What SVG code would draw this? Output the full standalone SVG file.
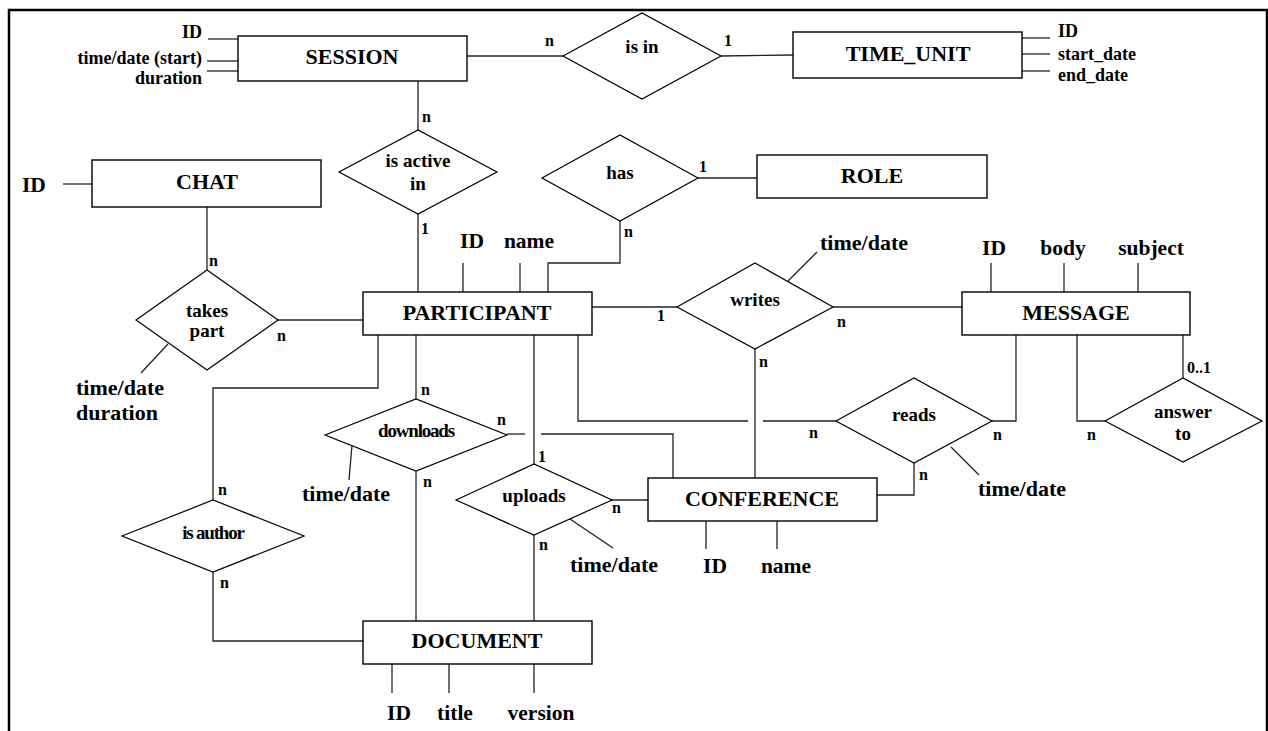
<svg xmlns="http://www.w3.org/2000/svg" width="1268" height="731" viewBox="0 0 1268 731">
<style>
text{font-family:"Liberation Serif","Times New Roman",serif;font-weight:bold;fill:#000}
.ent{fill:#fff;stroke:#000;stroke-width:1.4}
.rel{fill:#fff;stroke:#000;stroke-width:1.2}
.en{font-size:22px;text-anchor:middle}
.rt{font-size:19px;text-anchor:middle}
.cond{letter-spacing:-1.2px}
.at{font-size:21.5px}
.as{font-size:18px}
.td{font-size:22px}
.lb{font-size:16px}
.mid{text-anchor:middle}
.end{text-anchor:end}
#connectors path,#connectors line{fill:none;stroke:#222;stroke-width:1.3}
</style>
<rect width="1268" height="731" fill="#fff"/>
<path d="M9,731 V10 H1267 V731" fill="none" stroke="#000" stroke-width="2.5"/>

<g id="connectors">
  <!-- SESSION attributes -->
  <line x1="208" y1="39" x2="238" y2="39"/>
  <line x1="207" y1="61" x2="238" y2="61"/>
  <line x1="207" y1="71" x2="238" y2="71"/>
  <!-- TIME_UNIT attributes -->
  <line x1="1022" y1="38" x2="1050" y2="38"/>
  <line x1="1022" y1="54" x2="1050" y2="54"/>
  <line x1="1022" y1="71" x2="1050" y2="71"/>
  <!-- SESSION - is in - TIME_UNIT -->
  <line x1="467" y1="56" x2="563" y2="56"/>
  <line x1="721" y1="56" x2="793" y2="55"/>
  <!-- SESSION - is active in - PARTICIPANT -->
  <line x1="418" y1="81" x2="418" y2="130"/>
  <line x1="418" y1="214" x2="418" y2="292"/>
  <!-- CHAT -->
  <line x1="63" y1="184" x2="92" y2="184"/>
  <line x1="207" y1="207" x2="207" y2="270"/>
  <line x1="278" y1="320" x2="363" y2="320"/>
  <line x1="168" y1="344" x2="141" y2="373"/>
  <!-- has / ROLE -->
  <path d="M548,292 V263 H620 V221"/>
  <line x1="698" y1="178" x2="757" y2="178"/>
  <!-- PARTICIPANT attributes -->
  <line x1="463" y1="263" x2="463" y2="292"/>
  <line x1="520" y1="263" x2="520" y2="292"/>
  <!-- writes -->
  <line x1="592" y1="307" x2="677" y2="307"/>
  <line x1="833" y1="307" x2="962" y2="307"/>
  <line x1="788" y1="281" x2="817" y2="252"/>
  <line x1="755" y1="349" x2="755" y2="478"/>
  <!-- MESSAGE attributes -->
  <line x1="991" y1="263" x2="991" y2="292"/>
  <line x1="1064" y1="263" x2="1064" y2="292"/>
  <line x1="1138" y1="263" x2="1138" y2="292"/>
  <!-- MESSAGE - reads / answer to -->
  <path d="M1016,335 V421 H992"/>
  <path d="M1077,335 V421 H1105"/>
  <line x1="1183" y1="335" x2="1183" y2="378"/>
  <!-- PARTICIPANT - reads -->
  <path d="M578,335 V421 H748"/>
  <line x1="763" y1="421" x2="836" y2="421"/>
  <path d="M914,463 V495 H877"/>
  <line x1="951" y1="447" x2="979" y2="475"/>
  <!-- downloads -->
  <line x1="416" y1="335" x2="416" y2="399"/>
  <line x1="507" y1="434" x2="525" y2="434"/>
  <path d="M541,434 H673 V478"/>
  <line x1="352" y1="445" x2="349" y2="480"/>
  <line x1="416" y1="471" x2="416" y2="621"/>
  <!-- uploads -->
  <line x1="534" y1="335" x2="534" y2="464"/>
  <line x1="612" y1="500" x2="648" y2="500"/>
  <line x1="570" y1="519" x2="613" y2="548"/>
  <line x1="534" y1="535" x2="534" y2="621"/>
  <!-- is author -->
  <path d="M378,335 V388 H213 V500"/>
  <path d="M213,572 V641 H363"/>
  <!-- DOCUMENT attributes -->
  <line x1="392" y1="664" x2="392" y2="693"/>
  <line x1="449" y1="664" x2="449" y2="693"/>
  <line x1="534" y1="664" x2="534" y2="693"/>
  <!-- CONFERENCE attributes -->
  <line x1="706" y1="521" x2="706" y2="549"/>
  <line x1="777" y1="521" x2="777" y2="549"/>
</g>

<g id="cardinalities">
  <text class="lb" x="545" y="46">n</text>
  <text class="lb" x="724" y="46">1</text>
  <text class="lb" x="422" y="122">n</text>
  <text class="lb" x="421" y="234">1</text>
  <text class="lb" x="209" y="266">n</text>
  <text class="lb" x="277" y="341">n</text>
  <text class="lb" x="624" y="237">n</text>
  <text class="lb" x="699" y="172">1</text>
  <text class="lb" x="657" y="321">1</text>
  <text class="lb" x="837" y="327">n</text>
  <text class="lb" x="759" y="367">n</text>
  <text class="lb" x="993" y="440">n</text>
  <text class="lb" x="1087" y="440">n</text>
  <text class="lb" x="1187" y="373">0..1</text>
  <text class="lb" x="809" y="438">n</text>
  <text class="lb" x="919" y="480">n</text>
  <text class="lb" x="421" y="395">n</text>
  <text class="lb" x="497" y="425">n</text>
  <text class="lb" x="423" y="487">n</text>
  <text class="lb" x="538" y="462">1</text>
  <text class="lb" x="612" y="513">n</text>
  <text class="lb" x="539" y="550">n</text>
  <text class="lb" x="218" y="495">n</text>
  <text class="lb" x="220" y="588">n</text>
</g>

<g id="attributes">
  <text class="as end" x="202" y="38">ID</text>
  <text class="as end" x="202" y="64">time/date (start)</text>
  <text class="as end" x="202" y="84">duration</text>
  <text class="as" x="1058" y="37">ID</text>
  <text class="as" x="1058" y="60">start_date</text>
  <text class="as" x="1058" y="81">end_date</text>
  <text class="at" x="22" y="192">ID</text>
  <text class="td" x="76" y="395">time/date</text>
  <text class="td" x="76" y="420">duration</text>
  <text class="at mid" x="472" y="248">ID</text>
  <text class="at mid" x="529" y="248">name</text>
  <text class="td" x="820" y="250">time/date</text>
  <text class="at mid" x="994" y="255">ID</text>
  <text class="at mid" x="1063" y="255">body</text>
  <text class="at mid" x="1151" y="255">subject</text>
  <text class="td" x="978" y="496">time/date</text>
  <text class="td" x="302" y="501">time/date</text>
  <text class="td" x="570" y="572">time/date</text>
  <text class="at mid" x="715" y="573">ID</text>
  <text class="at mid" x="786" y="573">name</text>
  <text class="at mid" x="399" y="720">ID</text>
  <text class="at mid" x="455" y="720">title</text>
  <text class="at mid" x="541" y="720">version</text>
</g>

<g id="SESSION"><rect class="ent" x="238" y="36" width="229" height="45"/><text class="en" x="352" y="64">SESSION</text></g>
<g id="TIME_UNIT"><rect class="ent" x="793" y="32" width="229" height="46"/><text class="en" x="908" y="61">TIME_UNIT</text></g>
<g id="CHAT"><rect class="ent" x="92" y="160" width="229" height="47"/><text class="en" x="207" y="189">CHAT</text></g>
<g id="ROLE"><rect class="ent" x="757" y="155" width="230" height="43"/><text class="en" x="872" y="183">ROLE</text></g>
<g id="PARTICIPANT"><rect class="ent" x="363" y="292" width="229" height="43"/><text class="en" x="477" y="320">PARTICIPANT</text></g>
<g id="MESSAGE"><rect class="ent" x="962" y="292" width="228" height="43"/><text class="en" x="1076" y="320">MESSAGE</text></g>
<g id="CONFERENCE"><rect class="ent" x="648" y="478" width="229" height="43"/><text class="en" x="762" y="506">CONFERENCE</text></g>
<g id="DOCUMENT"><rect class="ent" x="363" y="621" width="229" height="43"/><text class="en" x="477" y="648">DOCUMENT</text></g>

<g id="is_in"><polygon class="rel" points="563,56 642,13 721,56 642,99"/><text class="rt" x="642" y="53">is in</text></g>
<g id="is_active_in"><polygon class="rel" points="339,172 418,130 497,172 418,214"/><text class="rt" x="418" y="167">is active</text><text class="rt" x="418" y="190">in</text></g>
<g id="has"><polygon class="rel" points="542,178 620,135 698,178 620,221"/><text class="rt" x="620" y="179">has</text></g>
<g id="takes_part"><polygon class="rel" points="136,320 207,270 278,320 207,370"/><text class="rt" x="207" y="317">takes</text><text class="rt" x="207" y="337">part</text></g>
<g id="writes"><polygon class="rel" points="677,307 755,263 833,307 755,349"/><text class="rt" x="755" y="306">writes</text></g>
<g id="reads"><polygon class="rel" points="836,421 914,378 992,421 914,463"/><text class="rt" x="914" y="421">reads</text></g>
<g id="answer_to"><polygon class="rel" points="1105,421 1183,378 1262,421 1183,462"/><text class="rt" x="1183" y="418">answer</text><text class="rt" x="1183" y="440">to</text></g>
<g id="downloads"><polygon class="rel" points="325,435 416,399 507,435 416,471"/><text class="rt cond" x="416" y="437">downloads</text></g>
<g id="uploads"><polygon class="rel" points="456,500 534,464 612,500 534,535"/><text class="rt" x="534" y="502">uploads</text></g>
<g id="is_author"><polygon class="rel" points="122,536 213,500 304,536 213,572"/><text class="rt cond" x="213" y="539">is author</text></g>
</svg>
